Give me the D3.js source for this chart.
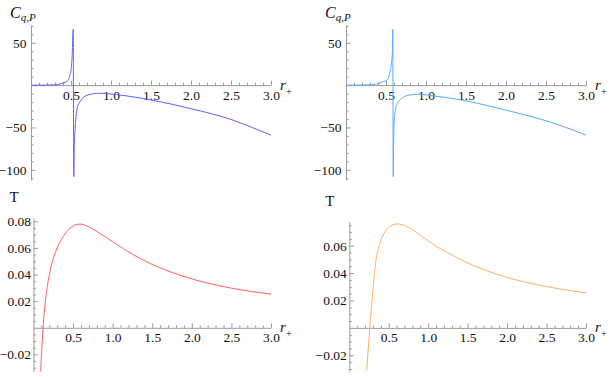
<!DOCTYPE html>
<html>
<head>
<meta charset="utf-8">
<script src="https://cdn.jsdelivr.net/npm/d3@7"></script>
<style>
  body { margin: 0; background: #fff; }
  svg { display: block; }
  text { font-family: "Liberation Serif", "Times New Roman", serif; }
</style>
</head>
<body>
<div id="chart"></div>
<script>
// heat capacity C_{q,P} vs r+, left panel
const rCLeft = [0, 0.1, 0.2, 0.3, 0.36, 0.404, 0.446, 0.47, 0.488, 0.5, 0.508, 0.515, 0.521, 0.525, 0.527,
  0.535, 0.541, 0.55, 0.5625, 0.579, 0.6125, 0.675, 0.78, 0.86, 1.0, 1.2, 1.5, 1.75, 2.0, 2.25, 2.5, 2.75, 3.0];
const cLeft = [0, 0, 0.1, 0.4, 1.2, 2.8, 3.9, 7.5, 11.8, 17, 25.6, 36, 53, 62, 66,
  -108, -70, -53, -37.4, -26.4, -19.7, -13, -10.2, -9.6, -10.5, -12.8, -17.5, -22.3, -27.8, -33.6, -40.5, -49.5, -59];

// heat capacity, right panel
const rCRight = [0, 0.1, 0.2, 0.3, 0.38, 0.425, 0.47, 0.508, 0.535, 0.55, 0.565, 0.575, 0.579, 0.583, 0.585,
  0.59, 0.595, 0.6, 0.617, 0.642, 0.696, 0.8, 0.925, 1.0, 1.2, 1.5, 1.75, 2.0, 2.25, 2.5, 2.75, 3.0];
const cRight = [0, 0, 0.1, 0.4, 1.3, 2.8, 4.2, 5.9, 10, 15.8, 24, 32, 37, 55, 66,
  -108, -70, -49, -29.5, -21.7, -15.8, -11.6, -10.6, -11.6, -14, -18.5, -23.8, -29.5, -35.5, -42, -50, -59];

// temperature T vs r+, left panel
const rTLeft = [0.09, 0.1, 0.11, 0.12, 0.13, 0.145, 0.16, 0.18, 0.208, 0.25, 0.293, 0.33, 0.376, 0.42, 0.461, 0.5, 0.553,
  0.6, 0.7, 0.8, 0.9, 1.0, 1.1, 1.25, 1.5, 1.75, 2.0, 2.25, 2.5, 2.75, 3.0];
const tLeft = [-0.033, -0.021, -0.01, -0.0005, 0.0075, 0.017, 0.0248, 0.033, 0.042, 0.052, 0.0592, 0.064, 0.0687, 0.0722, 0.0748, 0.0765, 0.0778,
  0.0779, 0.0757, 0.0724, 0.0686, 0.0647, 0.0608, 0.0553, 0.0476, 0.0416, 0.0367, 0.0329, 0.0298, 0.0273, 0.0253];

// temperature, right panel
const rTRight = [0.22, 0.24, 0.26, 0.28, 0.3, 0.32, 0.34, 0.368, 0.395, 0.424, 0.46, 0.495, 0.55, 0.609,
  0.7, 0.8, 0.9, 1.0, 1.1, 1.25, 1.5, 1.75, 2.0, 2.25, 2.5, 2.75, 3.0];
const tRight = [-0.031, -0.0155, -0.0005, 0.014, 0.028, 0.0405, 0.05, 0.0578, 0.0632, 0.0672, 0.0708, 0.0731, 0.0752, 0.0759,
  0.0748, 0.0718, 0.0677, 0.0636, 0.0597, 0.0548, 0.0474, 0.0416, 0.0368, 0.0331, 0.0301, 0.0276, 0.0256];

// tick labels
const xTicks = [0.5, 1.0, 1.5, 2.0, 2.5, 3.0];
const cTicks = [-100, -50, 50];
const tTicksLeft = [-0.02, 0.02, 0.04, 0.06, 0.08];
const tTicksRight = [-0.02, 0.02, 0.04, 0.06];

class PlotPanel {
  constructor(svg, opts) {
    this.svg = svg;
    Object.assign(this, opts);
    this.initVis();
  }

  initVis() {
    let vis = this;

    vis.g = vis.svg.append("g");

    vis.x = d3.scaleLinear().domain([0, 3]).range([vis.left, vis.right]);
    vis.y = d3.scaleLinear().domain(vis.yDomain).range([vis.bottom, vis.top]);

    // minor tick positions
    let xMinor = d3.range(1, 31).map(i => i / 10).filter(v => Math.abs(v * 2 - Math.round(v * 2)) > 1e-6);
    let yMinor = d3.range(Math.ceil(vis.yDomain[0] / vis.minorStep), Math.floor(vis.yDomain[1] / vis.minorStep) + 1)
      .map(i => i * vis.minorStep)
      .filter(v => !vis.yTicks.some(t => Math.abs(t - v) < vis.minorStep / 10) && Math.abs(v) > vis.minorStep / 10);

    let y0 = vis.y(0);

    // x axis
    vis.g.append("g")
      .attr("transform", `translate(0,${y0})`)
      .call(d3.axisBottom(vis.x).tickValues(xMinor).tickSizeInner(-2.5).tickSizeOuter(0).tickFormat(""))
      .call(g => g.select(".domain").remove());
    vis.xGroup = vis.g.append("g")
      .attr("transform", `translate(0,${y0})`)
      .call(d3.axisBottom(vis.x).tickValues(xTicks).tickSizeInner(-4.5).tickSizeOuter(0).tickPadding(5)
        .tickFormat(d3.format(".1f")));

    // y axis
    vis.g.append("g")
      .attr("transform", `translate(${vis.x(0)},0)`)
      .call(d3.axisLeft(vis.y).tickValues(yMinor).tickSizeInner(-2.5).tickSizeOuter(0).tickFormat(""))
      .call(g => g.select(".domain").remove());
    vis.yGroup = vis.g.append("g")
      .attr("transform", `translate(${vis.x(0)},0)`)
      .call(d3.axisLeft(vis.y).tickValues(vis.yTicks).tickSizeInner(-4.5).tickSizeOuter(0).tickPadding(vis.yPad)
        .tickFormat(d3.format(vis.yFormat)));

    vis.g.selectAll("g").attr("font-family", null);
    vis.g.selectAll(".tick line, .domain").attr("stroke", "#9a9a9a");
    vis.g.selectAll(".tick text")
      .attr("fill", "#111")
      .style("font-family", "'Liberation Serif', 'Times New Roman', serif")
      .style("font-size", "13.5px");

    // curve, clipped to plot range
    vis.g.append("clipPath").attr("id", vis.id + "-clip")
      .append("rect")
      .attr("x", vis.left).attr("y", vis.top)
      .attr("width", vis.right - vis.left).attr("height", vis.bottom - vis.top);

    let line = d3.line()
      .x(d => vis.x(d[0]))
      .y(d => vis.y(d[1]))
      .curve(d3.curveMonotoneX);

    vis.g.append("path")
      .datum(d3.zip(vis.rs, vis.vals))
      .attr("clip-path", `url(#${vis.id}-clip)`)
      .attr("fill", "none")
      .attr("stroke", vis.color)
      .attr("stroke-width", 1)
      .attr("d", line);

    // axis labels
    let rLab = vis.g.append("text")
      .attr("x", vis.right + 9)
      .attr("y", y0 + 4.5)
      .attr("fill", "#111");
    rLab.append("tspan").attr("font-style", "italic").attr("font-size", 15).text("r");
    rLab.append("tspan").attr("font-size", 11).attr("dy", 5).text("+");

    if (vis.yLabel === "C") {
      let cLab = vis.g.append("text")
        .attr("x", vis.x(0) - 21)
        .attr("y", vis.top - 7)
        .attr("fill", "#111");
      cLab.append("tspan").attr("font-style", "italic").attr("font-size", 16).text("C");
      cLab.append("tspan").attr("font-style", "italic").attr("font-size", 11).attr("dy", 3).text("q,P");
    } else {
      vis.g.append("text")
        .attr("x", vis.x(0) - 24)
        .attr("y", vis.top - 16)
        .attr("font-size", 15)
        .attr("fill", "#111")
        .text("T");
    }
  }
}

let svg = d3.select("#chart").append("svg")
  .attr("width", 610)
  .attr("height", 377);

new PlotPanel(svg, {
  id: "cl", left: 31, right: 271, top: 25, bottom: 180, yDomain: [-112, 71],
  yTicks: cTicks, minorStep: 10, yFormat: "d", yPad: 4.5, yLabel: "C",
  rs: rCLeft, vals: cLeft, color: "#6060ff"
});
new PlotPanel(svg, {
  id: "cr", left: 346, right: 586, top: 25, bottom: 180, yDomain: [-112, 71],
  yTicks: cTicks, minorStep: 10, yFormat: "d", yPad: 4.5, yLabel: "C",
  rs: rCRight, vals: cRight, color: "#5aa8ff"
});
new PlotPanel(svg, {
  id: "tl", left: 33.5, right: 271, top: 218, bottom: 371.7, yDomain: [-0.033, 0.0825],
  yTicks: tTicksLeft, minorStep: 0.005, yFormat: ".2f", yPad: 2.5, yLabel: "T",
  rs: rTLeft, vals: tLeft, color: "#ff5f5f"
});
new PlotPanel(svg, {
  id: "tr", left: 349.3, right: 586, top: 221.7, bottom: 371.7, yDomain: [-0.032, 0.0775],
  yTicks: tTicksRight, minorStep: 0.005, yFormat: ".2f", yPad: 2.5, yLabel: "T",
  rs: rTRight, vals: tRight, color: "#ffb060"
});
</script>
</body>
</html>
